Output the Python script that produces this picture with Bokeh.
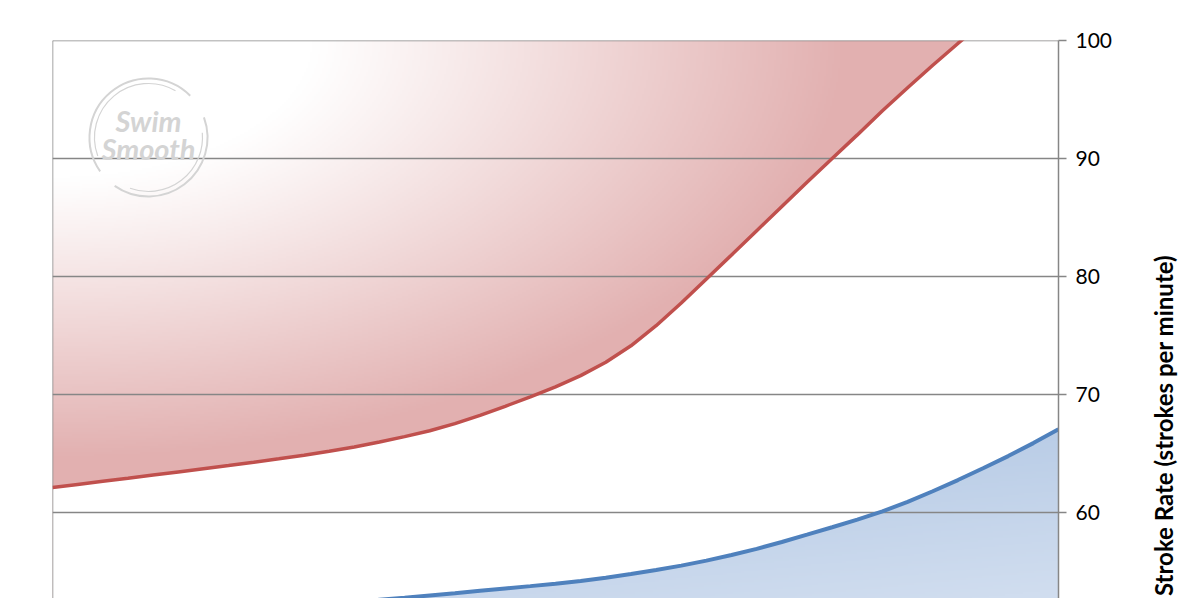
import numpy as np
from bokeh.plotting import figure
from bokeh.layouts import row
from bokeh.models import Range1d, FixedTicker, Label
from bokeh.embed import file_html
from bokeh.resources import INLINE

# ---- data ----
x_vals = [0, 2.5, 5, 7.5, 10, 12.5, 15, 17.5, 20, 22.5, 25, 27.5, 30, 32.5, 35, 37.5, 40,
          42.5, 45, 47.5, 50, 52.5, 55, 57.5, 60, 62.5, 65, 67.5, 70, 72.5, 75, 77.5, 80,
          82.5, 85, 87.5, 90, 92.5, 95, 97.5, 100]
upper_rate = [62.12, 62.38, 62.64, 62.9, 63.17, 63.44, 63.71, 63.98, 64.26, 64.55, 64.86,
              65.19, 65.55, 65.98, 66.43, 66.93, 67.53, 68.23, 69.0, 69.8, 70.65, 71.6,
              72.73, 74.13, 75.83, 77.75, 79.78, 81.83, 83.88, 85.93, 87.98, 90.0, 92.0,
              94.05, 96.0, 97.9, 99.75, 101.55, 103.3, 105.0, 106.7]
lower_rate = [50.58, 50.72, 50.86, 51.0, 51.15, 51.3, 51.45, 51.6, 51.76, 51.92, 52.08,
              52.25, 52.42, 52.6, 52.78, 52.97, 53.16, 53.36, 53.56, 53.76, 53.97, 54.2,
              54.47, 54.78, 55.12, 55.5, 55.92, 56.4, 56.92, 57.5, 58.12, 58.75, 59.4,
              60.1, 60.9, 61.8, 62.75, 63.75, 64.78, 65.88, 67.05]
y_ticks = [60, 70, 80, 90, 100]
y_title = "Stroke Rate (strokes per minute)"

# ---- layout ----
FW, FH = 1006, 558
Y_TOP = 100.0
Y_BOT = Y_TOP - FH / 11.8
X0, X1 = 0.0, 100.0
GRID = "#868686"
FONT = "Lato"

p = figure(frame_width=FW, frame_height=FH, output_backend="svg", toolbar_location=None,
           x_range=Range1d(X0, X1), y_range=Range1d(Y_BOT, Y_TOP),
           x_axis_location=None, y_axis_location="right",
           min_border_left=52, min_border_top=40, min_border_bottom=0, min_border_right=56,
           background_fill_color="white", border_fill_color="white")
p.outline_line_color = None
p.xgrid.visible = False
p.ygrid.visible = False

# ---- gradient fills (styling only) ----
def to_rgba(r, g, b):
    img = np.empty(r.shape, dtype=np.uint32)
    v = img.view(dtype=np.uint8).reshape(r.shape + (4,))
    v[..., 0] = np.clip(r, 0, 255).astype(np.uint8)
    v[..., 1] = np.clip(g, 0, 255).astype(np.uint8)
    v[..., 2] = np.clip(b, 0, 255).astype(np.uint8)
    v[..., 3] = 255
    return img

nx, ny = 503, 279
GX, GY = np.meshgrid(np.linspace(X0, X1, nx), np.linspace(Y_BOT, Y_TOP, ny))
red_x_end = 90.5
u = GX / red_x_end
w = (Y_TOP - GY) / (Y_TOP - min(upper_rate))
t = np.sqrt((u / 0.95) ** 2 + (w / 1.02) ** 2)
f = np.clip((t - 0.3) / 0.62, 0, 1) ** 1.05
pink = (226, 176, 176)
R = 255 + (pink[0] - 255) * f
G = 255 + (pink[1] - 255) * f
B = 255 + (pink[2] - 255) * f
p.image_rgba(image=[to_rgba(R, G, B)], x=X0, y=Y_BOT, dw=X1 - X0, dh=Y_TOP - Y_BOT)

# mask below red curve
p.varea(x=x_vals, y1=[Y_BOT] * len(x_vals), y2=upper_rate, fill_color="white")

# blue gradient, darker upper-left to lighter lower-right
dark = (176, 198, 227)
light = (208, 221, 239)

def blue_patch(xa, xb, ytop, n):
    BX, BY = np.meshgrid(np.linspace(xa, xb, n), np.linspace(Y_BOT, ytop, 100))
    ub = (BX - 33.5) / (X1 - 33.5)
    vb = (max(lower_rate) - BY) / (max(lower_rate) - 52.5)
    fb = np.clip(0.3 * ub + 0.75 * vb, 0, 1)
    img = to_rgba(dark[0] + (light[0] - dark[0]) * fb,
                  dark[1] + (light[1] - dark[1]) * fb,
                  dark[2] + (light[2] - dark[2]) * fb)
    p.image_rgba(image=[img], x=xa, y=Y_BOT, dw=xb - xa, dh=ytop - Y_BOT)

blue_patch(42.0, X1, 67.4, 300)
blue_patch(28.0, 42.0, 60.0, 80)

# mask between the curves
p.varea(x=x_vals, y1=lower_rate, y2=upper_rate, fill_color="white")

# gridlines and left border
p.hspan(y=y_ticks, line_color=GRID, line_width=1.3)
p.vspan(x=[X0], line_color=GRID, line_width=1.5)

# watermark logo
LOGO = "#d4d4d4"
for txt, py in (("Swim", 120), ("Smooth", 148)):
    p.add_layout(Label(x=148 - 52, y=FH - (py - 40), x_units="screen", y_units="screen",
                       text=txt, text_font=FONT, text_font_size="29px",
                       text_font_style="bold italic", text_color=LOGO,
                       text_align="center", text_baseline="middle"))
cx = X0 + (148 - 52) / 10.06
cy = Y_TOP - (137 - 40) / 11.8
p.arc(x=[cx, cx], y=[cy, cy], radius=59, radius_units="screen",
      start_angle=[np.deg2rad(45), np.deg2rad(235)], end_angle=[np.deg2rad(215), np.deg2rad(20)],
      line_color=LOGO, line_width=2)
p.arc(x=[cx, cx], y=[cy, cy], radius=54, radius_units="screen",
      start_angle=[np.deg2rad(60), np.deg2rad(250)], end_angle=[np.deg2rad(200), np.deg2rad(5)],
      line_color=LOGO, line_width=1.2)

# curves
p.line(x_vals, upper_rate, line_color="#c0504d", line_width=3.5)
p.line(x_vals, lower_rate, line_color="#4f81bd", line_width=4)

# right axis
ax = p.yaxis[0]
ax.ticker = FixedTicker(ticks=y_ticks)
ax.axis_line_color = GRID
ax.axis_line_width = 1.5
ax.major_tick_line_color = GRID
ax.major_tick_line_width = 1.5
ax.major_tick_out = 8
ax.major_tick_in = 0
ax.minor_tick_line_color = None
ax.major_label_text_font = FONT
ax.major_label_text_font_size = "21px"
ax.major_label_text_color = "black"
ax.major_label_standoff = 9

# axis title (reads bottom to top) in a narrow companion panel
TW = 32
p2 = figure(frame_width=TW, frame_height=FH, output_backend="svg", toolbar_location=None,
            x_range=Range1d(0, 1), y_range=Range1d(0, 1),
            x_axis_location=None, y_axis_location=None,
            min_border_left=35, min_border_right=0, min_border_top=40, min_border_bottom=0,
            background_fill_color="white", border_fill_color="white")
p2.outline_line_color = None
p2.grid.visible = False
p2.add_layout(Label(x=TW / 2 - 3, y=FH - (425 - 40), x_units="screen", y_units="screen",
                    text=y_title, angle=np.pi / 2, text_font=FONT, text_font_size="24px",
                    text_font_style="bold", text_color="black",
                    text_align="center", text_baseline="middle"))

layout = row(p, p2)
open("out.html", "w").write(file_html(layout, INLINE))
